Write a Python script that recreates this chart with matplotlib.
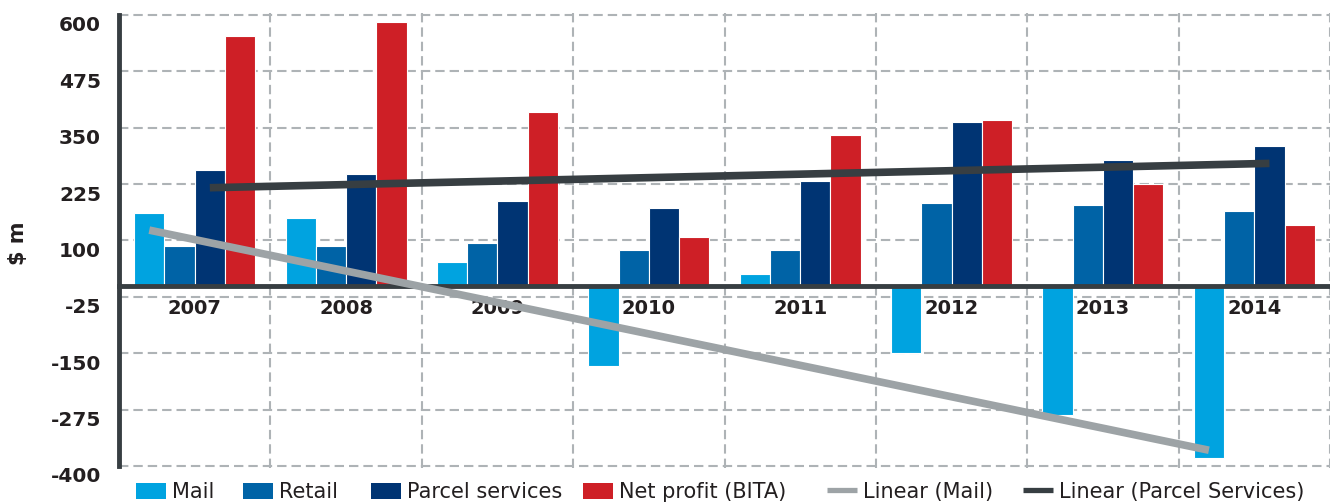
import matplotlib
matplotlib.use('Agg')
import matplotlib.pyplot as plt
import numpy as np
from matplotlib.transforms import ScaledTranslation
from matplotlib.patches import Patch
from matplotlib.lines import Line2D

# ---------------- data ----------------
years = ['2007', '2008', '2009', '2010', '2011', '2012', '2013', '2014']
mail = [161, 149, 52, -178, 26, -149, -286, -382]
retail = [87, 87, 95, 79, 80, 183, 179, 166]
parcel = [256, 247, 188, 171, 233, 362, 279, 310]
net_profit = [554, 584, 385, 107, 335, 367, 225, 134]
# linear trend lines (value at first and last year)
mail_trend = [123, -365]
parcel_trend = [217, 271]
yticks = [600, 475, 350, 225, 100, -25, -150, -275, -400]

series_names = ['Mail', 'Retail', 'Parcel services', 'Net profit (BITA)']
trend_names = ['Linear (Mail)', 'Linear (Parcel Services)']

# ---------------- style ----------------
c_mail = '#00A3E0'
c_retail = '#0063A6'
c_parcel = '#003473'
c_net = '#CE1F26'
c_trend_mail = '#9DA3A6'
c_trend_parcel = '#373E42'
c_axis = '#373E42'
c_grid = '#AEB3B6'
c_text = '#231F20'

W, H = 1330, 503
fig = plt.figure(figsize=(W / 100, H / 100), dpi=100)

ylo, yhi = -405, 605
px_per_unit = 0.451
top_px = 15 - (yhi - 600) * px_per_unit
bot_px = 466 + (-400 - ylo) * px_per_unit
ax = fig.add_axes([119 / W, 1 - bot_px / H, (W - 119) / W, (bot_px - top_px) / H])

x = np.arange(len(years))
bw = 0.2
offsets = [-0.3, -0.1, 0.1, 0.3]
colors = [c_mail, c_retail, c_parcel, c_net]
for vals, off, col in zip([mail, retail, parcel, net_profit], offsets, colors):
    ax.bar(x + off, vals, width=bw, color=col, edgecolor='white', linewidth=0.8, zorder=2)

# trend lines from first to last year, aligned with their series' bars
ax.plot([x[0] + offsets[0], x[-1] + offsets[0]], mail_trend, color=c_trend_mail,
        lw=5.5, solid_capstyle='butt', zorder=4)
ax.plot([x[0] + offsets[2], x[-1] + offsets[2]], parcel_trend, color=c_trend_parcel,
        lw=5.5, solid_capstyle='butt', zorder=4)

ax.set_xlim(-0.5, 7.5)
ax.set_ylim(ylo, yhi)

# grid
dash = (0, (4.5, 2.4))
ax.set_yticks(yticks)
ax.set_xticks(x)
ax.set_xticks(np.arange(-0.5, 8, 1), minor=True)
ax.grid(which='major', axis='y', color=c_grid, lw=1.5, linestyle=dash)
ax.grid(which='minor', axis='x', color=c_grid, lw=1.5, linestyle=dash)
ax.set_axisbelow(True)

# spines
for s in ['top', 'right']:
    ax.spines[s].set_visible(False)
ax.spines['left'].set_color(c_axis)
ax.spines['left'].set_linewidth(3.5)
ax.spines['left'].set_bounds(-400, 600)
ax.spines['bottom'].set_position(('data', 0))
ax.spines['bottom'].set_color(c_axis)
ax.spines['bottom'].set_linewidth(3.5)
ax.spines['bottom'].set_zorder(3)

ax.tick_params(axis='both', which='both', length=0)
ax.tick_params(axis='y', pad=13, labelsize=14.5, labelcolor=c_text)
ax.tick_params(axis='x', pad=10, labelsize=14, labelcolor=c_text)
ax.set_xticklabels(years, fontweight='bold')
ax.set_yticklabels([str(v) for v in yticks], fontweight='bold')
shift = ScaledTranslation(0, -9 / 100, fig.dpi_scale_trans)
for lab in ax.get_yticklabels():
    lab.set_transform(lab.get_transform() + shift)

ax.set_ylabel('$ m', fontsize=15, fontweight='bold', color=c_text, parse_math=False)
ax.yaxis.set_label_coords(-0.075, 0.494)

# legend entries, placed individually
handles = [Patch(facecolor=c, edgecolor='none') for c in colors] + [
    Line2D([], [], color=c_trend_mail, lw=3.8, solid_capstyle='butt'),
    Line2D([], [], color=c_trend_parcel, lw=3.8, solid_capstyle='butt')]
labels = series_names + trend_names
leg_x = [136, 243, 371, 583, 827, 1023]
for h, l, lx in zip(handles, labels, leg_x):
    fig.legend(handles=[h], labels=[l], loc='center left',
               bbox_to_anchor=(lx / W, 1 - 492 / H), frameon=False,
               borderpad=0, borderaxespad=0, handlelength=1.44,
               handleheight=0.82, handletextpad=0.28, fontsize=15,
               labelcolor=c_text)

fig.savefig('out.png', dpi=100)
